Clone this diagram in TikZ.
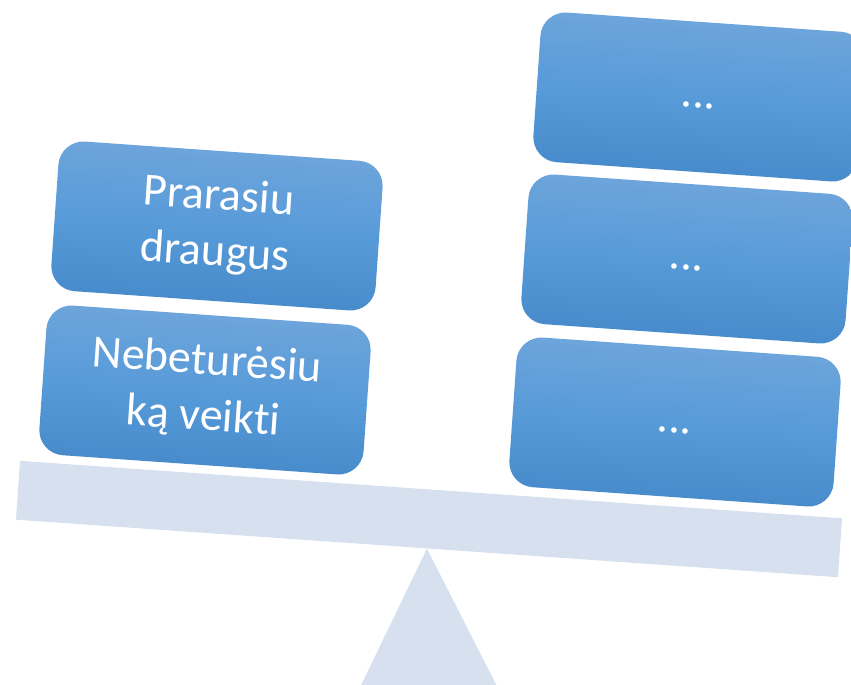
\documentclass[tikz,border=0pt]{standalone}
\usepackage{fontspec}
\setmainfont[RawFeature=-liga]{Carlito}
\definecolor{beamcol}{RGB}{214,224,238}
\definecolor{btop}{RGB}{113,166,219}
\definecolor{bmid}{RGB}{88,155,217}
\definecolor{bbot}{RGB}{68,136,201}
\tikzset{
  itembox/.style={rectangle, rounded corners=25pt, minimum width=325pt, minimum height=150pt,
    inner sep=0pt, rotate=-4, top color=btop, bottom color=bbot, middle color=bmid,
    shading angle=-4, text=white, align=center,
    font=\fontsize{46}{56}\selectfont},
  beam/.style={rectangle, minimum width=824pt, minimum height=59pt, inner sep=0pt,
    rotate=-4, fill=beamcol}
}
\begin{document}
\begin{tikzpicture}[x=1pt,y=-1pt]
\useasboundingbox (0,0) rectangle (851,685);
\clip (0,0) rectangle (851,685);
\node[beam] (beam) at (429,519) {};
\fill[beamcol] (beam.south) -- (354,700) -- (504,700) -- cycle;
\node[itembox] (l1) at (217,226) {Prarasiu\\draugus};
\node[itembox] (l2) at (205,390) {Nebeturėsiu\\ką veikti};
\node[itembox] (r1) at (699,97) {\strut...};
\node[itembox] (r2) at (687,259) {\strut...};
\node[itembox] (r3) at (675,422) {\strut...};
\end{tikzpicture}
\end{document}
